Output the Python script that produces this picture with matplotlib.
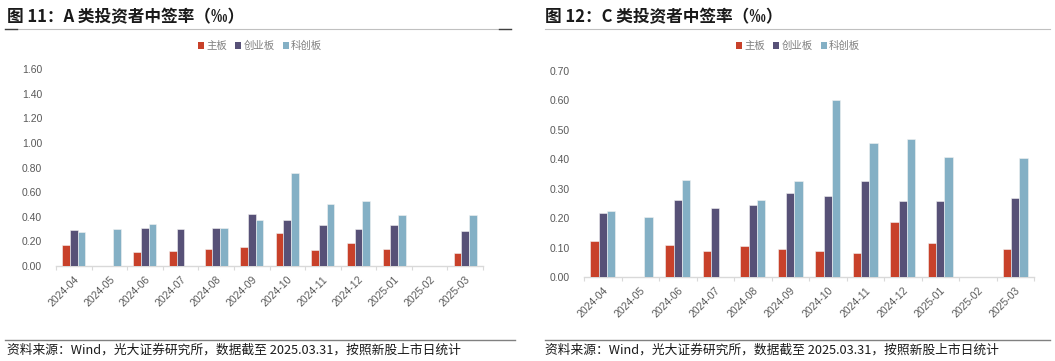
import numpy as np
import matplotlib
matplotlib.use("Agg")
import matplotlib.pyplot as plt
from matplotlib.patches import Patch
from matplotlib.lines import Line2D

plt.rcParams['font.family'] = ['Noto Sans CJK SC', 'DejaVu Sans']

months = ["2024-04", "2024-05", "2024-06", "2024-07", "2024-08", "2024-09",
          "2024-10", "2024-11", "2024-12", "2025-01", "2025-02", "2025-03"]
series_names = ["主板", "创业板", "科创板"]

nan = np.nan
a_main = [0.168, nan, 0.111, 0.122, 0.136, 0.152, 0.264, 0.133, 0.187, 0.136, nan, 0.106]
a_gem = [0.296, nan, 0.312, 0.304, 0.310, 0.423, 0.372, 0.337, 0.299, 0.329, nan, 0.285]
a_star = [0.274, 0.304, 0.345, nan, 0.310, 0.372, 0.752, 0.505, 0.524, 0.413, nan, 0.413]

c_main = [0.121, nan, 0.110, 0.087, 0.107, 0.096, 0.089, 0.082, 0.188, 0.114, nan, 0.096]
c_gem = [0.216, nan, 0.263, 0.234, 0.244, 0.285, 0.275, 0.326, 0.257, 0.259, nan, 0.270]
c_star = [0.225, 0.205, 0.330, nan, 0.261, 0.326, 0.601, 0.455, 0.468, 0.408, nan, 0.406]

a_yticks = [0.0, 0.2, 0.4, 0.6, 0.8, 1.0, 1.2, 1.4, 1.6]
c_yticks = [0.0, 0.1, 0.2, 0.3, 0.4, 0.5, 0.6, 0.7]

title_a = "图 11：A 类投资者中签率（‰）"
title_c = "图 12：C 类投资者中签率（‰）"
source = "资料来源：Wind，光大证券研究所，数据截至 2025.03.31，按照新股上市日统计"

colors = ["#C8412A", "#575177", "#84B0C5"]
W, H = 1055, 361
fig = plt.figure(figsize=(W / 100, H / 100), dpi=100)


def px_axes(x0, y_top, x1, y_bot):
    return fig.add_axes([x0 / W, 1 - y_bot / H, (x1 - x0) / W, (y_bot - y_top) / H])


def draw_panel(x0, y_top, x1, y_bot, data, yticks, bw):
    ax = px_axes(x0, y_top, x1, y_bot)
    x = np.arange(len(months))
    offs = [-bw, 0, bw]
    for vals, c, o in zip(data, colors, offs):
        ax.bar(x + o, np.array(vals, dtype=float), width=bw, color=c,
               edgecolor="#F2F2F2", linewidth=0.4, zorder=3)
    ax.set_xlim(-0.5, len(months) - 0.5)
    ax.set_ylim(yticks[0], yticks[-1])
    ax.set_yticks(yticks)
    ax.set_yticklabels([f"{v:.2f}" for v in yticks], family=['Liberation Sans', 'DejaVu Sans'],
                       fontsize=7.5, color="#595959")
    ax.set_xticks(x)
    ax.set_xticklabels(months, rotation=45, ha="right", rotation_mode="anchor",
                       family=['Liberation Sans', 'DejaVu Sans'], fontsize=7.5, color="#595959")
    ax.set_xticks(np.arange(len(months) + 1) - 0.5, minor=True)
    ax.tick_params(axis="x", which="major", length=0, pad=6)
    ax.tick_params(axis="x", which="minor", length=3, color="#D9D9D9", width=0.8)
    ax.tick_params(axis="y", length=0, pad=10)
    for s in ["top", "right", "left"]:
        ax.spines[s].set_visible(False)
    ax.spines["bottom"].set_color("#D9D9D9")
    ax.spines["bottom"].set_linewidth(1.0)
    return ax


draw_panel(56, 69, 483, 266, [a_main, a_gem, a_star], a_yticks, 0.215)
draw_panel(584, 71, 1034, 277, [c_main, c_gem, c_star], c_yticks, 0.22)

# Titles
fig.text(7 / W, 1 - 17 / H, title_a, fontsize=12, fontweight="bold", va="center", ha="left", color="#1a1a1a")
fig.text(545 / W, 1 - 17 / H, title_c, fontsize=12, fontweight="bold", va="center", ha="left", color="#1a1a1a")

# Title underlines
fig.add_artist(Line2D([5 / W, 511 / W], [1 - 29 / H] * 2, color="#C0C0C0", lw=0.8))
fig.add_artist(Line2D([5 / W, 17 / W], [1 - 29 / H] * 2, color="#404040", lw=1.0))
fig.add_artist(Line2D([499 / W, 511 / W], [1 - 29 / H] * 2, color="#404040", lw=1.0))
fig.add_artist(Line2D([545 / W, 1050 / W], [1 - 29 / H] * 2, color="#C0C0C0", lw=0.8))

# Legends
handles = [Patch(facecolor=c, edgecolor="none") for c in colors]
for cx in (260, 798):
    fig.legend(handles, series_names, loc="center", bbox_to_anchor=(cx / W, 1 - 46 / H),
               ncol=3, frameon=False, fontsize=7.5, labelcolor="#7F7F7F",
               handlelength=0.6, handleheight=0.6, handletextpad=0.2, columnspacing=0.8)

# Source lines
fig.add_artist(Line2D([5 / W, 515 / W], [1 - 340 / H] * 2, color="#808080", lw=1.0))
fig.add_artist(Line2D([545 / W, 1050 / W], [1 - 340 / H] * 2, color="#808080", lw=1.0))
fig.text(7 / W, 1 - 350 / H, source, fontsize=9.2, va="center", ha="left", color="#1a1a1a")
fig.text(545 / W, 1 - 350 / H, source, fontsize=9.2, va="center", ha="left", color="#1a1a1a")

fig.savefig("out.png", dpi=100)
